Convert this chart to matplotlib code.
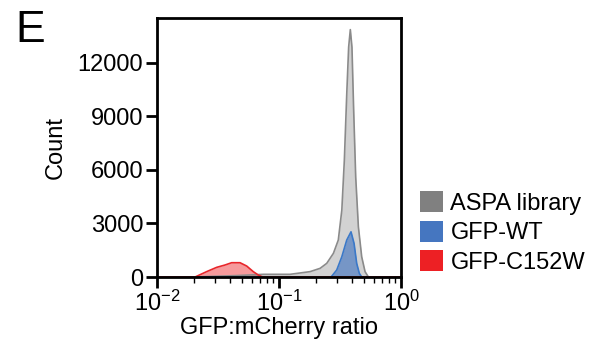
import matplotlib
matplotlib.use("Agg")
import matplotlib.pyplot as plt
from matplotlib.patches import Patch
from matplotlib.ticker import FixedLocator, LogLocator, NullFormatter
import numpy as np

plt.rcParams['font.family'] = ['Liberation Sans', 'DejaVu Sans']
plt.rcParams['mathtext.fontset'] = 'custom'
plt.rcParams['mathtext.rm'] = 'Liberation Sans'
plt.rcParams['mathtext.default'] = 'regular'

# GFP:mCherry ratio histograms (ratio, count)
library_ratio = [0.01, 0.02, 0.03, 0.045, 0.06, 0.0743, 0.123, 0.1795, 0.217, 0.246, 0.279,
                 0.306, 0.327, 0.343, 0.359, 0.372, 0.384, 0.396, 0.409, 0.425,
                 0.447, 0.476, 0.507, 0.540, 1.0]
library_count = [0, 0, 40, 80, 120, 150, 150, 300, 485, 765, 1325,
                 2070, 3740, 6540, 10260, 12870, 13850, 12870, 9330, 5600,
                 2810, 1130, 300, 0, 0]

wt_ratio = [0.01, 0.267, 0.297, 0.327, 0.359, 0.389, 0.412, 0.433, 0.455, 0.476, 1.0]
wt_count = [0, 0, 390, 1130, 2070, 2530, 1880, 765, 205, 0, 0]

mut_ratio = [0.01, 0.0205, 0.0255, 0.0308, 0.036, 0.0409, 0.0479, 0.0543, 0.0615, 0.0676, 0.0734, 1.0]
mut_count = [0, 0, 300, 540, 670, 800, 800, 615, 300, 110, 0, 0]

series = [
    ("ASPA library", library_ratio, library_count, "#808080", "#8a8a8a", 0.35),
    ("GFP-WT", wt_ratio, wt_count, "#4576c0", "#3a78c8", 0.65),
    ("GFP-C152W", mut_ratio, mut_count, "#ed2024", "#e8262b", 0.45),
]

fig = plt.figure(figsize=(6.07, 3.46), dpi=100)
ax = fig.add_axes([0.2587, 0.1994, 0.402, 0.7486])

for name, x, y, color, edge, a in series:
    ax.fill_between(x, y, 0, color=color, alpha=a, linewidth=0)
    ax.plot(x, y, color=edge, linewidth=1.2)

ax.set_xscale('log')
ax.set_xlim(0.01, 1.0)
ax.set_ylim(0, 14500)
ax.set_yticks([0, 3000, 6000, 9000, 12000])
ax.xaxis.set_major_locator(FixedLocator([0.01, 0.1, 1.0]))
ax.set_xticklabels([r'$10^{-2}$', r'$10^{-1}$', r'$10^{0}$'])
ax.xaxis.set_minor_locator(LogLocator(base=10, subs=np.arange(2, 10)))
ax.xaxis.set_minor_formatter(NullFormatter())

for s in ax.spines.values():
    s.set_linewidth(2)
ax.tick_params(axis='both', which='major', length=8, width=2, labelsize=17, pad=2)
ax.tick_params(axis='x', which='minor', length=4, width=1)

ax.set_ylabel('Count', fontsize=17, labelpad=8)
ax.set_xlabel('GFP:mCherry ratio', fontsize=17, labelpad=1)

handles = [Patch(facecolor=c, edgecolor='none') for _, _, _, c, _, _ in series]
fig.legend(handles, [s[0] for s in series], loc='upper left',
           bbox_to_anchor=(0.676, 0.475), frameon=False, fontsize=17,
           handlelength=1.0, handleheight=1.0, handletextpad=0.3,
           labelspacing=0.25, borderaxespad=0)

fig.text(0.025, 0.97, 'E', fontsize=32, va='top', ha='left')

fig.savefig('out.png', dpi=100)
